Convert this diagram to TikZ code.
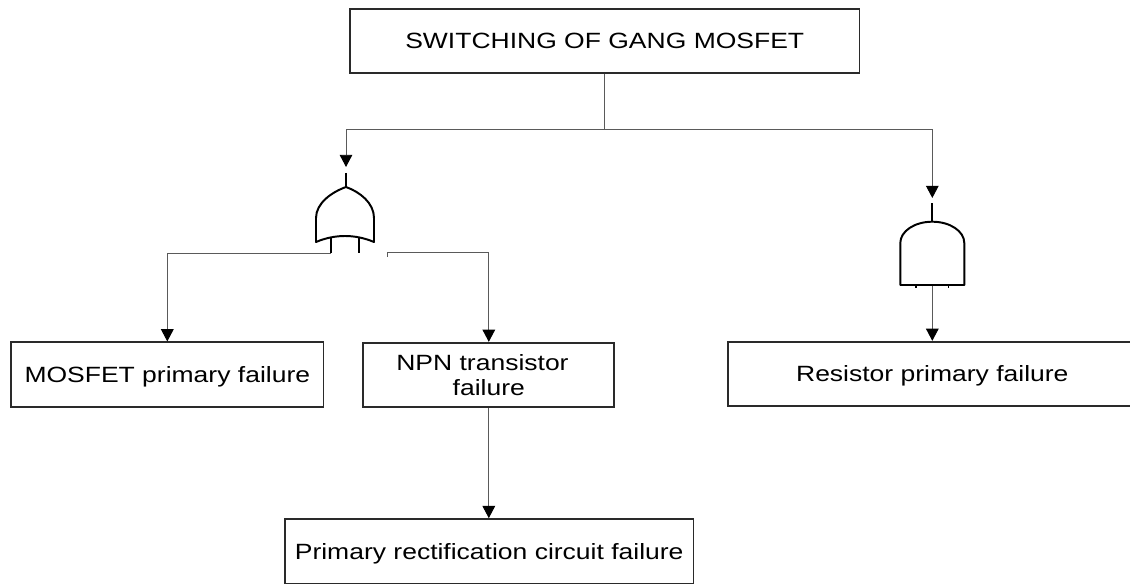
\documentclass[tikz,border=0pt]{standalone}
\usepackage{fontspec}
\setmainfont{Liberation Sans}
\usepackage{graphicx}
\usetikzlibrary{arrows.meta}
\newcommand{\wtxt}[1]{\scalebox{1.2}[1]{#1}}
\definecolor{linegray}{HTML}{5A5A5A}
\definecolor{boxline}{HTML}{2A2A2A}
\begin{document}
\begin{tikzpicture}[x=0.025cm,y=-0.025cm,
  box/.style={draw=boxline,line width=1.2pt,inner sep=0pt,
    font=\fontsize{15.7}{17.5}\selectfont,align=center},
  oneline/.style={text height=13.5pt,text depth=2.2pt},
  conn/.style={draw=linegray,line width=0.7pt},
  arr/.style={conn,-{Triangle[width=9pt,length=8.7pt,color=black]}},
  gate/.style={draw=black,line width=1.4pt,line join=round}]
\clip (0,0) rectangle (1130,584);

% boxes
\node[box,oneline,minimum width=12.73cm,minimum height=1.585cm] (top) at (604.7,41) {\wtxt{SWITCHING OF GANG MOSFET}};
\node[box,oneline,minimum width=7.8cm,minimum height=1.61cm] (mos) at (167.3,374.5) {\wtxt{MOSFET primary failure}};
\node[box,minimum width=6.275cm,minimum height=1.615cm] (npn) at (488.8,375) {\wtxt{NPN transistor}\hspace*{9pt}\\\wtxt{failure}};
\node[box,oneline,minimum width=10.23cm,minimum height=1.6cm] (res) at (932.3,373.7) {\wtxt{Resistor primary failure}};
\node[box,oneline,minimum width=10.21cm,minimum height=1.61cm] (bot) at (489.2,551.2) {\wtxt{Primary rectification circuit failure}};

% coordinates
\coordinate (j) at (604.7,129);
\coordinate (orin) at (346,167);
\coordinate (andin) at (932.3,198);
\coordinate (orL) at (331,253);
\coordinate (tick) at (387,256.5);
\coordinate (andout) at (932.3,286);

% OR gate
\draw[gate] (316,242) -- (316,218) .. controls (316,203) and (332,192) .. (346,187)
  .. controls (360,192) and (374,203) .. (374,218) -- (374,242)
  .. controls (355,234) and (335,234) .. (316,242) -- cycle;
\draw[gate] (346,173) -- (346,187);
\draw[gate] (331,238) -- (331,253);
\draw[gate] (359,238) -- (359,253);

% AND gate
\draw[gate] (900.3,285) -- (900.3,243) .. controls (900.3,231.2) and (914.6,221.7) .. (932.3,221.7)
  .. controls (950,221.7) and (964.3,231.2) .. (964.3,243) -- (964.3,285) -- cycle;
\draw[gate] (932.3,203) -- (932.3,221.7);
\draw[gate,line width=0.9pt] (916,285) -- (916,288);
\draw[gate,line width=0.9pt] (948.3,285) -- (948.3,288);

% connectors
\draw[conn] (top.south) -- (j);
\draw[arr] (j) -| (orin);
\draw[arr] (j) -| (andin);
\draw[arr] (orL) -| (mos.north);
\draw[arr] (tick) -- ++(0,-4) -| (npn.north);
\draw[arr] (andout) -- (res.north);
\draw[arr] (npn.south) -- (npn.south |- bot.north);
\end{tikzpicture}
\end{document}
